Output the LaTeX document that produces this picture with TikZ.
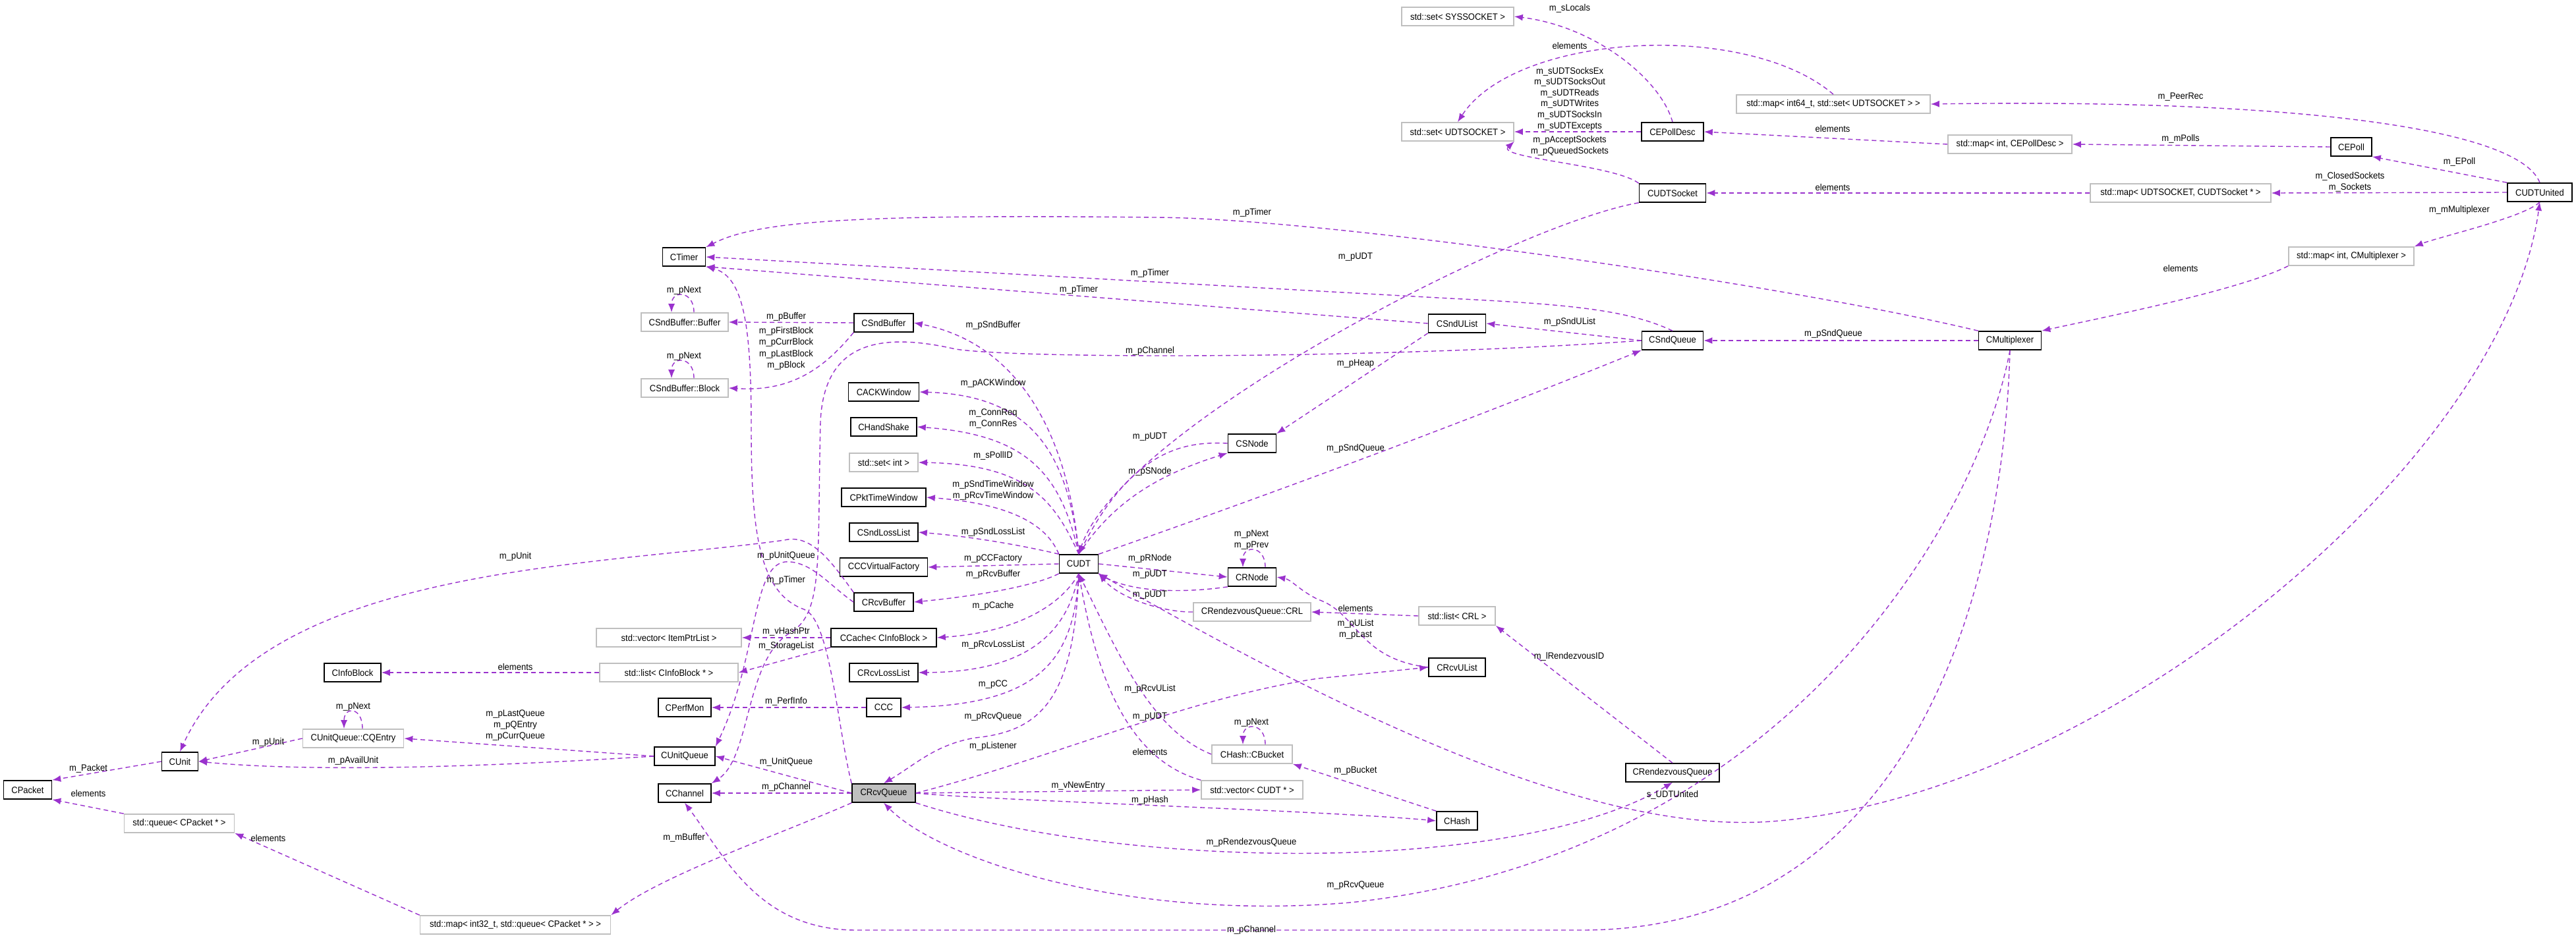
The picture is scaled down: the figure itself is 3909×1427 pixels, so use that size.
\documentclass[tikz,border=0pt]{standalone}
\usepackage{fontspec}
\setmainfont{Liberation Sans}[FakeStretch=0.93]
\usetikzlibrary{arrows.meta}
\definecolor{edgec}{HTML}{9A32CD}
\begin{document}
\begin{tikzpicture}[x=1pt,y=-1pt,
 cls/.style={draw=black,line width=1.6pt,minimum height=28pt,inner sep=2pt,font=\fontsize{14}{17}\selectfont,fill=white},
 gcls/.style={cls,draw=black!25,line width=1.6pt},
 lbl/.style={font=\fontsize{14}{17}\selectfont,align=center,inner sep=0pt},
 e/.style={draw=edgec,dash pattern=on 7pt off 5pt,line width=1.4pt,-{Latex[length=13pt,width=10pt]}}]
\useasboundingbox (0,0) rectangle (3909,1427);
\fill[white] (0,0) rectangle (3909,1427);
% nodes
\node[gcls,minimum width=170] (ssys) at (2212,25) {std::set< SYSSOCKET >};
\node[gcls,minimum width=294] (mi64) at (2782,158) {std::map< int64\_t, std::set< UDTSOCKET > >};
\node[gcls,minimum width=170] (sudt) at (2212,200) {std::set< UDTSOCKET >};
\node[cls,minimum width=94] (epd) at (2538,200) {CEPollDesc};
\node[gcls,minimum width=188] (mepd) at (3050,219) {std::map< int, CEPollDesc >};
\node[cls,minimum width=62] (ep) at (3568,223) {CEPoll};
\node[cls,minimum width=98] (uni) at (3854,292) {CUDTUnited};
\node[cls,minimum width=101] (us) at (2538,293) {CUDTSocket};
\node[gcls,minimum width=274] (mus) at (3309,293) {std::map< UDTSOCKET, CUDTSocket * >};
\node[gcls,minimum width=190] (mmx) at (3568,389) {std::map< int, CMultiplexer >};
\node[cls,minimum width=95] (mx) at (3050,517) {CMultiplexer};
\node[cls,minimum width=93] (sq) at (2538,517) {CSndQueue};
\node[cls,minimum width=87] (sul) at (2211,491) {CSndUList};
\node[cls,minimum width=65] (timer) at (1038,390) {CTimer};
\node[gcls,minimum width=132] (sbb) at (1039,489) {CSndBuffer::Buffer};
\node[gcls,minimum width=132] (sbk) at (1039,589) {CSndBuffer::Block};
\node[cls,minimum width=90] (sb) at (1341,490) {CSndBuffer};
\node[cls,minimum width=107] (ack) at (1341,595) {CACKWindow};
\node[cls,minimum width=100] (hs) at (1341,648) {CHandShake};
\node[gcls,minimum width=104] (sint) at (1341,702) {std::set< int >};
\node[cls,minimum width=128] (ptw) at (1341,755) {CPktTimeWindow};
\node[cls,minimum width=104] (sll) at (1341,808) {CSndLossList};
\node[cls,minimum width=133] (ccf) at (1341,861) {CCCVirtualFactory};
\node[cls,minimum width=90] (rb) at (1341,914) {CRcvBuffer};
\node[cls,minimum width=59] (udt) at (1637,856) {CUDT};
\node[cls,minimum width=73] (sn) at (1900,673) {CSNode};
\node[cls,minimum width=73] (rn) at (1900,876) {CRNode};
\node[gcls,minimum width=178] (crl) at (1900,929) {CRendezvousQueue::CRL};
\node[gcls,minimum width=116] (lcrl) at (2211,935) {std::list< CRL >};
\node[cls,minimum width=86] (rul) at (2211,1013) {CRcvUList};
\node[cls,minimum width=142] (rq2) at (2538,1173) {CRendezvousQueue};
\node[cls,minimum width=62] (hash) at (2211,1246) {CHash};
\node[gcls,minimum width=122] (bkt) at (1900,1145) {CHash::CBucket};
\node[gcls,minimum width=154] (vudt) at (1900,1199) {std::vector< CUDT * >};
\node[gcls,minimum width=220] (vip) at (1015,968) {std::vector< ItemPtrList >};
\node[cls,minimum width=160] (cache) at (1341,968) {CCache< CInfoBlock >};
\node[gcls,minimum width=210] (lib) at (1015,1021) {std::list< CInfoBlock * >};
\node[cls,minimum width=104] (rll) at (1341,1021) {CRcvLossList};
\node[cls,minimum width=80] (pm) at (1039,1074) {CPerfMon};
\node[cls,minimum width=52] (ccc) at (1341,1074) {CCC};
\node[cls,minimum width=92] (uq) at (1039,1148) {CUnitQueue};
\node[cls,minimum width=80] (ch) at (1039,1204) {CChannel};
\node[cls,minimum width=96,fill=black!25] (rq) at (1341,1204) {CRcvQueue};
\node[cls,minimum width=86] (ib) at (535,1021) {CInfoBlock};
\node[gcls,minimum width=153] (cqe) at (536,1121) {CUnitQueue::CQEntry};
\node[cls,minimum width=55] (unit) at (273,1156) {CUnit};
\node[cls,minimum width=73] (pkt) at (42,1199) {CPacket};
\node[gcls,minimum width=167] (qp) at (272,1250) {std::queue< CPacket * >};
\node[gcls,minimum width=289] (mq) at (782,1404) {std::map< int32\_t, std::queue< CPacket * > >};
% edges
\draw[e] (epd.north) .. controls (2520,120) and (2420,40) .. (ssys.east);
\draw[e] (mi64.north) .. controls (2650,30) and (2300,50) .. (sudt.north);
\draw[e] (epd.west) -- (sudt.east);
\draw[e] (us.north west) .. controls (2450,250) and (2270,240) .. (sudt.south east);
\draw[e] (mepd.west) -- (epd.east);
\draw[e] (ep.west) -- (mepd.east);
\draw[e] (uni.north) .. controls (3820,190) and (3450,150) .. (mi64.east);
\draw[e] (uni.north west) -- (ep.south east);
\draw[e] (uni.west) -- (mus.east);
\draw[e] (mus.west) -- (us.east);
\draw[e] (uni.south) .. controls (3830,330) and (3700,360) .. (mmx.north east);
\draw[e] (mmx.south west) .. controls (3400,440) and (3200,480) .. (mx.north east);
\draw[e] (us.south west) .. controls (2300,340) and (1700,650) .. (udt.north);
\draw[e] (mx.north west) .. controls (2700,430) and (2000,330) .. (1750,330) .. controls (1300,325) and (1150,335) .. (timer.north east);
\draw[e] (sq.north) .. controls (2470,470) and (2380,462) .. (2200,453) -- (timer.east);
\draw[e] (sul.west) -- (timer.south east);
\draw[e] (sb.west) -- (sbb.east);
\draw[e] (sb.south west) .. controls (1250,560) and (1200,595) .. (sbk.east);
\draw[e] ([xshift=14]sbb.north) .. controls +(0,-34) and +(0,-34) .. ([xshift=-20]sbb.north);
\draw[e] ([xshift=14]sbk.north) .. controls +(0,-34) and +(0,-34) .. ([xshift=-20]sbk.north);
\draw[e] ([xshift=14]cqe.north) .. controls +(0,-34) and +(0,-34) .. ([xshift=-14]cqe.north);
\draw[e] ([xshift=20]rn.north) .. controls +(0,-34) and +(0,-34) .. ([xshift=-14]rn.north);
\draw[e] ([xshift=20]bkt.north) .. controls +(0,-34) and +(0,-34) .. ([xshift=-14]bkt.north);
\draw[e] (sq.west) .. controls (2100,545) and (1550,545) .. (1450,530) .. controls (1320,500) and (1250,530) .. (1245,640) .. controls (1240,850) and (1250,930) .. (1200,960) .. controls (1130,1000) and (1140,1150) .. (ch.north east);
\draw[e] (rq.north west) .. controls (1270,1100) and (1260,940) .. (1220,925) .. controls (1150,900) and (1140,800) .. (1140,650) .. controls (1140,500) and (1130,420) .. (timer.south east);
\draw[e] (rb.west) .. controls (1260,890) and (1230,850) .. (1191,853) .. controls (1140,860) and (1150,1000) .. (uq.north east);
\draw[e] (rb.north west) .. controls (1260,850) and (1230,810) .. (1190,820) .. controls (900,860) and (400,860) .. (unit.north);
\draw[e] (udt.north) .. controls (1620,650) and (1540,520) .. (sb.east);
\draw[e] (udt.north) .. controls (1620,680) and (1560,600) .. (ack.east);
\draw[e] (udt.north) .. controls (1610,720) and (1560,660) .. (hs.east);
\draw[e] (udt.north) .. controls (1600,760) and (1560,705) .. (sint.east);
\draw[e] (udt.north west) .. controls (1590,800) and (1540,765) .. (ptw.east);
\draw[e] (udt.north west) .. controls (1560,830) and (1480,815) .. (sll.east);
\draw[e] (udt.west) -- (ccf.east);
\draw[e] (udt.south west) .. controls (1570,890) and (1480,905) .. (rb.east);
\draw[e] (udt.south) .. controls (1610,920) and (1540,960) .. (cache.east);
\draw[e] (udt.south) .. controls (1620,960) and (1560,1020) .. (rll.east);
\draw[e] (udt.south) .. controls (1630,1000) and (1580,1070) .. (ccc.east);
\draw[e] (udt.south) .. controls (1630,1060) and (1580,1110) .. (1480,1120) .. controls (1420,1130) and (1390,1160) .. (rq.north);
\draw[e] (udt.north east) .. controls (1900,760) and (2200,650) .. (sq.south west);
\draw[e] (sn.west) .. controls (1800,670) and (1720,680) .. (udt.north);
\draw[e] (udt.north) .. controls (1690,760) and (1760,720) .. (sn.south west);
\draw[e] (sul.south west) -- (sn.north east);
\draw[e] (sq.west) -- (sul.east);
\draw[e] (mx.west) -- (sq.east);
\draw[e] (udt.east) -- (rn.west);
\draw[e] (rn.south west) .. controls (1800,900) and (1720,900) .. (udt.south east);
\draw[e] (crl.west) .. controls (1770,930) and (1700,910) .. (udt.south east);
\draw[e] (lcrl.west) -- (crl.east);
\draw[e] (rul.west) .. controls (2060,1000) and (2060,930) .. (2000,910) .. controls (1970,895) and (1960,880) .. (rn.east);
\draw[e] (rq2.north) -- (lcrl.south east);
\draw[e] (rq.east) .. controls (1600,1150) and (1800,1060) .. (2000,1030) -- (rul.west);
\draw[e] (bkt.west) .. controls (1750,1110) and (1700,1000) .. (udt.south);
\draw[e] (vudt.north west) .. controls (1700,1150) and (1660,1000) .. (udt.south);
\draw[e] (hash.north west) -- (bkt.south east);
\draw[e] (rq.east) .. controls (1500,1215) and (2000,1230) .. (hash.west);
\draw[e] (rq.east) -- (vudt.west);
\draw[e] (rq.south east) .. controls (1700,1320) and (2300,1330) .. (rq2.south);
\draw[e] (mx.south) .. controls (3000,800) and (2700,1300) .. (2050,1370) .. controls (1700,1400) and (1420,1300) .. (rq.south);
\draw[e] (mx.south) .. controls (3040,900) and (2900,1412) .. (2400,1412) -- (1300,1412) .. controls (1150,1412) and (1100,1300) .. (ch.south);
\draw[e] (udt.south east) .. controls (2100,1120) and (2450,1270) .. (2700,1246) .. controls (3200,1200) and (3800,700) .. (uni.south);
\draw[e] (rq.west) -- (uq.east);
\draw[e] (rq.west) -- (ch.east);
\draw[e] (rq.south west) .. controls (1200,1260) and (1000,1330) .. (mq.north east);
\draw[e] (cache.west) -- (vip.east);
\draw[e] (cache.south west) -- (lib.east);
\draw[e] (lib.west) -- (ib.east);
\draw[e] (ccc.west) -- (pm.east);
\draw[e] (uq.west) -- (cqe.east);
\draw[e] (uq.west) .. controls (800,1160) and (500,1175) .. (unit.east);
\draw[e] (cqe.west) -- (unit.east);
\draw[e] (unit.west) -- (pkt.north east);
\draw[e] (qp.north west) -- (pkt.south east);
\draw[e] (mq.north west) -- (qp.south east);
% labels
\node[lbl] (l1) at (2382,13) {m\_sLocals};
\node[lbl] (l2) at (2382,69) {elements};
\node[lbl,font=\fontsize{14}{16.6}\selectfont] (l3) at (2382,150) {m\_sUDTSocksEx\\m\_sUDTSocksOut\\m\_sUDTReads\\m\_sUDTWrites\\m\_sUDTSocksIn\\m\_sUDTExcepts};
\node[lbl] (l4) at (2382,221) {m\_pAcceptSockets\\m\_pQueuedSockets};
\node[lbl] (l5) at (2781,195) {elements};
\node[lbl] (l6) at (3309,211) {m\_mPolls};
\node[lbl] (l7) at (3309,147) {m\_PeerRec};
\node[lbl] (l8) at (3732,246) {m\_EPoll};
\node[lbl] (l9) at (3566,276) {m\_ClosedSockets\\m\_Sockets};
\node[lbl] (l10) at (2781,284) {elements};
\node[lbl] (l11) at (3732,319) {m\_mMultiplexer};
\node[lbl] (l12) at (3309,407) {elements};
\node[lbl] (l13) at (2057,390) {m\_pUDT};
\node[lbl] (l14) at (1900,323) {m\_pTimer};
\node[lbl] (l15) at (1745,415) {m\_pTimer};
\node[lbl] (l16) at (1637,440) {m\_pTimer};
\node[lbl] (l17) at (2382,489) {m\_pSndUList};
\node[lbl] (l18) at (2782,507) {m\_pSndQueue};
\node[lbl] (l19) at (2057,552) {m\_pHeap};
\node[lbl] (l20) at (1745,533) {m\_pChannel};
\node[lbl] (l21) at (2057,681) {m\_pSndQueue};
\node[lbl] (l22) at (1038,441) {m\_pNext};
\node[lbl] (l23) at (1038,541) {m\_pNext};
\node[lbl] (l24) at (1193,481) {m\_pBuffer};
\node[lbl,font=\fontsize{14}{17.5}\selectfont] (l25) at (1193,529) {m\_pFirstBlock\\m\_pCurrBlock\\m\_pLastBlock\\m\_pBlock};
\node[lbl] (l26) at (1507,494) {m\_pSndBuffer};
\node[lbl] (l27) at (1507,582) {m\_pACKWindow};
\node[lbl] (l28) at (1507,635) {m\_ConnReq\\m\_ConnRes};
\node[lbl] (l29) at (1507,692) {m\_sPollID};
\node[lbl] (l30) at (1507,744) {m\_pSndTimeWindow\\m\_pRcvTimeWindow};
\node[lbl] (l31) at (1507,808) {m\_pSndLossList};
\node[lbl] (l32) at (1507,848) {m\_pCCFactory};
\node[lbl] (l33) at (1507,872) {m\_pRcvBuffer};
\node[lbl] (l34) at (1745,663) {m\_pUDT};
\node[lbl] (l35) at (1745,716) {m\_pSNode};
\node[lbl] (l36) at (1899,820) {m\_pNext\\m\_pPrev};
\node[lbl] (l37) at (1745,848) {m\_pRNode};
\node[lbl] (l38) at (1745,872) {m\_pUDT};
\node[lbl] (l39) at (1745,903) {m\_pUDT};
\node[lbl] (l40) at (1193,844) {m\_pUnitQueue};
\node[lbl] (l41) at (1193,881) {m\_pTimer};
\node[lbl] (l42) at (1507,920) {m\_pCache};
\node[lbl] (l43) at (1193,959) {m\_vHashPtr};
\node[lbl] (l44) at (1193,981) {m\_StorageList};
\node[lbl] (l45) at (1507,979) {m\_pRcvLossList};
\node[lbl] (l46) at (1193,1065) {m\_PerfInfo};
\node[lbl] (l47) at (1507,1039) {m\_pCC};
\node[lbl] (l48) at (1507,1088) {m\_pRcvQueue};
\node[lbl] (l49) at (1507,1133) {m\_pListener};
\node[lbl] (l50) at (1745,1046) {m\_pRcvUList};
\node[lbl] (l51) at (1745,1088) {m\_pUDT};
\node[lbl] (l52) at (1745,1141) {elements};
\node[lbl] (l53) at (1193,1157) {m\_UnitQueue};
\node[lbl] (l54) at (1193,1195) {m\_pChannel};
\node[lbl] (l55) at (1899,1097) {m\_pNext};
\node[lbl] (l56) at (1636,1193) {m\_vNewEntry};
\node[lbl] (l57) at (1745,1215) {m\_pHash};
\node[lbl] (l58) at (1899,1279) {m\_pRendezvousQueue};
\node[lbl] (l59) at (1038,1272) {m\_mBuffer};
\node[lbl] (l60) at (1899,1412) {m\_pChannel};
\node[lbl] (l61) at (2057,923) {elements};
\node[lbl] (l62) at (2057,955) {m\_pUList\\m\_pLast};
\node[lbl] (l63) at (2381,997) {m\_lRendezvousID};
\node[lbl] (l64) at (2538,1207) {s\_UDTUnited};
\node[lbl] (l65) at (2057,1170) {m\_pBucket};
\node[lbl] (l66) at (2057,1344) {m\_pRcvQueue};
\node[lbl] (l67) at (782,1012) {elements};
\node[lbl] (l68) at (536,1073) {m\_pNext};
\node[lbl] (l69) at (782,1101) {m\_pLastQueue\\m\_pQEntry\\m\_pCurrQueue};
\node[lbl] (l70) at (407,1127) {m\_pUnit};
\node[lbl] (l71) at (536,1155) {m\_pAvailUnit};
\node[lbl] (l72) at (134,1167) {m\_Packet};
\node[lbl] (l73) at (134,1204) {elements};
\node[lbl] (l74) at (407,1272) {elements};
\node[lbl] (l75) at (782,845) {m\_pUnit};
\end{tikzpicture}
\end{document}
